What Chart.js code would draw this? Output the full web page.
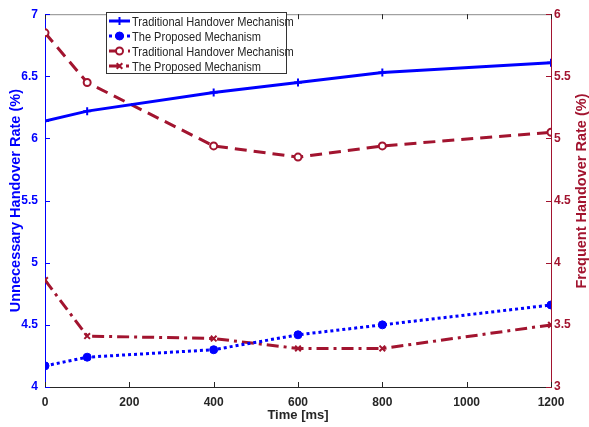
<!DOCTYPE html>
<html>
<head>
<meta charset="utf-8">
<script src="https://cdn.jsdelivr.net/npm/chart.js@4/dist/chart.umd.min.js"></script>
<style>
  html, body { margin: 0; padding: 0; background: #fff; }
</style>
</head>
<body>
<canvas id="chart" width="589" height="427"></canvas>
<script>
// data
const timeMs = [0, 100, 400, 600, 800, 1200];
const unnecessaryTraditional = [6.14, 6.22, 6.37, 6.45, 6.53, 6.61];
const unnecessaryProposed = [4.17, 4.24, 4.30, 4.42, 4.50, 4.66];
const frequentTraditional = [5.85, 5.45, 4.94, 4.85, 4.94, 5.05];
const frequentProposed = [3.86, 3.41, 3.39, 3.31, 3.31, 3.50];
const legendLabels = [
    'Traditional Handover Mechanism',
    'The Proposed Mechanism',
    'Traditional Handover Mechanism',
    'The Proposed Mechanism'
];

const BLUE = '#0000ff';
const RED = '#a2142f';
const FONT = '"Liberation Sans", Arial, Helvetica, sans-serif';

const toPoints = (ys) => timeMs.map((x, i) => ({ x: x, y: ys[i] }));

const datasets = [
    {
        label: legendLabels[0], data: toPoints(unnecessaryTraditional), yAxisID: 'y',
        borderColor: BLUE, backgroundColor: BLUE, borderWidth: 3,
        pointStyle: 'cross', pointRadius: 4, pointBorderWidth: 2
    },
    {
        label: legendLabels[1], data: toPoints(unnecessaryProposed), yAxisID: 'y',
        borderColor: BLUE, backgroundColor: BLUE, borderWidth: 3, borderDash: [3, 3],
        pointStyle: 'circle', pointRadius: 4, pointBorderWidth: 1
    },
    {
        label: legendLabels[2], data: toPoints(frequentTraditional), yAxisID: 'y1',
        borderColor: RED, backgroundColor: '#ffffff', borderWidth: 3, borderDash: [12, 7],
        pointStyle: 'circle', pointRadius: 3.5, pointBorderWidth: 2
    },
    {
        label: legendLabels[3], data: toPoints(frequentProposed), yAxisID: 'y1',
        borderColor: RED, backgroundColor: RED, borderWidth: 3, borderDash: [12, 5, 3, 5],
        pointStyle: 'crossRot', pointRadius: 4, pointBorderWidth: 2
    }
];

// inward ticks, top frame line, right axis title, legend box
const decorations = {
    id: 'decorations',
    afterDraw(chart) {
        const ctx = chart.ctx;
        const a = chart.chartArea;
        const sx = chart.scales.x, sy = chart.scales.y, sy1 = chart.scales.y1;
        ctx.save();
        ctx.lineWidth = 1;

        // top frame
        ctx.strokeStyle = '#8c8c8c';
        ctx.beginPath();
        ctx.moveTo(a.left, a.top + 0.5);
        ctx.lineTo(a.right, a.top + 0.5);
        ctx.stroke();

        // x ticks, bottom and top
        ctx.strokeStyle = '#262626';
        sx.ticks.forEach(t => {
            const px = Math.round(sx.getPixelForValue(t.value)) + 0.5;
            ctx.beginPath();
            ctx.moveTo(px, a.bottom); ctx.lineTo(px, a.bottom - 5);
            ctx.moveTo(px, a.top); ctx.lineTo(px, a.top + 5);
            ctx.stroke();
        });
        // left ticks
        ctx.strokeStyle = BLUE;
        sy.ticks.forEach(t => {
            const py = Math.round(sy.getPixelForValue(t.value)) + 0.5;
            ctx.beginPath(); ctx.moveTo(a.left, py); ctx.lineTo(a.left + 5, py); ctx.stroke();
        });
        // right ticks
        ctx.strokeStyle = RED;
        sy1.ticks.forEach(t => {
            const py = Math.round(sy1.getPixelForValue(t.value)) + 0.5;
            ctx.beginPath(); ctx.moveTo(a.right, py); ctx.lineTo(a.right - 5, py); ctx.stroke();
        });

        // right axis title, reading bottom to top
        ctx.fillStyle = RED;
        ctx.font = 'bold 14.5px ' + FONT;
        ctx.textAlign = 'center';
        ctx.textBaseline = 'middle';
        ctx.translate(582, 191);
        ctx.rotate(-Math.PI / 2);
        ctx.fillText('Frequent Handover Rate (%)', 0, 0);
        ctx.setTransform(1, 0, 0, 1, 0, 0);

        // legend
        const bx = 106, by = 12, bw = 180, bh = 61;
        ctx.fillStyle = '#ffffff';
        ctx.fillRect(bx, by, bw, bh);
        ctx.strokeStyle = '#333333';
        ctx.strokeRect(bx + 0.5, by + 0.5, bw, bh);
        ctx.font = '13px ' + FONT;
        ctx.textAlign = 'left';
        chart.data.datasets.forEach((ds, i) => {
            const ly = by + 9 + i * 15;
            ctx.save();
            ctx.strokeStyle = ds.borderColor;
            ctx.lineWidth = 3;
            ctx.setLineDash(ds.borderDash || []);
            ctx.beginPath();
            ctx.moveTo(bx + 3, ly);
            ctx.lineTo(bx + 24, ly);
            ctx.stroke();
            ctx.restore();
            ctx.save();
            ctx.lineWidth = ds.pointBorderWidth;
            ctx.fillStyle = ds.backgroundColor;
            ctx.strokeStyle = ds.borderColor;
            Chart.helpers.drawPoint(ctx, {
                pointStyle: ds.pointStyle, radius: ds.pointRadius, rotation: 0,
                borderWidth: ds.pointBorderWidth
            }, bx + 13.5, ly);
            ctx.restore();
            ctx.fillStyle = '#262626';
            // the figure's text is horizontally condensed, squeeze it to the same width
            const w = ctx.measureText(ds.label).width * 0.85;
            ctx.fillText(ds.label, bx + 26, ly + 1, w);
        });
        ctx.restore();
    }
};

const plainLabel = (v) => String(v);

new Chart(document.getElementById('chart'), {
    type: 'line',
    data: { datasets: datasets },
    options: {
        responsive: false,
        animation: false,
        devicePixelRatio: 1,
        layout: { padding: { top: 12, left: 0, right: 0, bottom: 0 } },
        plugins: { legend: { display: false }, tooltip: { enabled: false } },
        scales: {
            x: {
                type: 'linear', min: 0, max: 1200,
                afterFit: (s) => { s.height = 40; },
                grid: { display: false, drawTicks: false },
                border: { display: true, color: '#262626' },
                ticks: { stepSize: 200, color: '#262626', padding: 8, callback: plainLabel, font: { family: FONT, size: 12, weight: 'bold' } },
                title: { display: true, text: 'Time [ms]', color: '#262626', padding: { top: 0, bottom: 4 }, font: { family: FONT, size: 13, weight: 'bold' } }
            },
            y: {
                position: 'left', min: 4, max: 7,
                afterFit: (s) => { s.width = 45; },
                grid: { display: false, drawTicks: false },
                border: { display: true, color: BLUE },
                ticks: { stepSize: 0.5, color: BLUE, padding: 7, callback: plainLabel, font: { family: FONT, size: 12, weight: 'bold' } },
                title: { display: true, text: 'Unnecessary Handover Rate (%)', color: BLUE, padding: { top: 7, bottom: 0 }, font: { family: FONT, size: 14.5, weight: 'bold' } }
            },
            y1: {
                position: 'right', min: 3, max: 6,
                afterFit: (s) => { s.width = 38; },
                grid: { display: false, drawTicks: false },
                border: { display: true, color: RED },
                ticks: { stepSize: 0.5, color: RED, padding: 3, callback: plainLabel, font: { family: FONT, size: 12, weight: 'bold' } }
            }
        }
    },
    plugins: [decorations]
});
</script>
</body>
</html>
